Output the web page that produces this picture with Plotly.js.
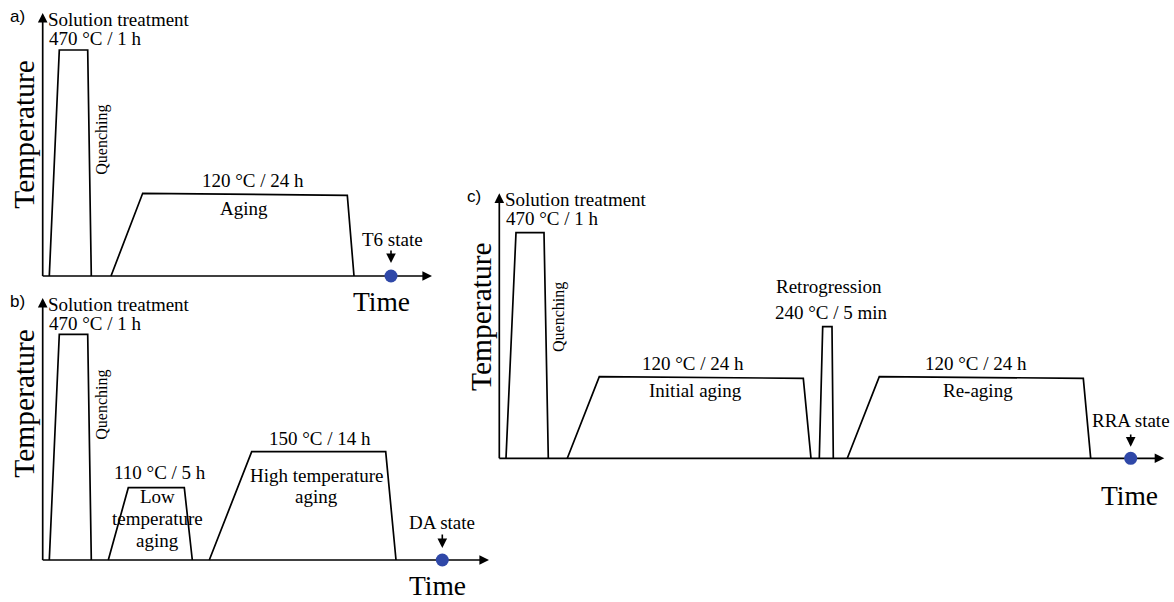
<!DOCTYPE html>
<html>
<head>
<meta charset="utf-8">
<script src="https://cdn.plot.ly/plotly-3.0.1.min.js"></script>
<style>
  html, body { margin: 0; padding: 0; background: #fff; }
  #chart { width: 1174px; height: 602px; }
</style>
</head>
<body>
<div id="chart"></div>
<script>
// Schematic heat-treatment routes. Time runs along x and the temperature level
// along y; both are schematic units (not to scale), origin at each axis corner.

// a) T6 route
const t6SolutionTime  = [6.6, 16.6, 45, 48.6];
const t6SolutionLevel = [0, 226, 226, 0];
const t6AgingTime     = [68.3, 100, 304.6, 311.3];
const t6AgingLevel    = [0, 82.7, 80.7, 0];
const t6EndTime       = [348.3];

// b) Double-aging (DA) route
const daSolutionTime  = [6.6, 16.6, 45, 48.6];
const daSolutionLevel = [0, 225.7, 225.7, 0];
const daLowTime       = [65.6, 85.6, 141.6, 149.6];
const daLowLevel      = [0, 72.3, 72.3, 0];
const daHighTime      = [166.6, 209, 343, 353.3];
const daHighLevel     = [0, 108.3, 108.3, 0];
const daEndTime       = [399.6];

// c) Retrogression and re-aging (RRA) route
const rraSolutionTime  = [6.7, 16.7, 44.7, 49];
const rraSolutionLevel = [0, 225.6, 225.6, 0];
const rraInitialTime   = [68, 100, 304, 311.7];
const rraInitialLevel  = [0, 81.6, 80, 0];
const rraRetroTime     = [320, 323.4, 332.7, 334];
const rraRetroLevel    = [0, 131.6, 131.6, 0];
const rraReagingTime   = [348, 380, 584, 591.4];
const rraReagingLevel  = [0, 81.6, 80, 0];
const rraEndTime       = [631.4];

// Process conditions written on the diagrams
const solutionLabel = ['Solution treatment', '470 °C / 1 h'];
const t6Labels  = ['120 °C / 24 h', 'Aging', 'T6 state'];
const daLabels  = ['110 °C / 5 h', 'Low', 'temperature', 'aging', '150 °C / 14 h', 'High temperature', 'aging', 'DA state'];
const rraLabels = ['Retrogression', '240 °C / 5 min', '120 °C / 24 h', 'Initial aging', '120 °C / 24 h', 'Re-aging', 'RRA state'];
const panelTags = ['a)', 'b)', 'c)'];
const axisNames = ['Time', 'Temperature'];

const SERIF = '"Liberation Serif", "Times New Roman", serif';
const SANS = '"Liberation Sans", Arial, sans-serif';
const INK = '#000';
const DOT = '#2f48a8';
const W = 1174, H = 602;

// Each panel: pixel box on the page and where its origin sits; 1 unit = 1 px.
const panels = [
  { x: 'x',  y: 'y',  box: [0, 0, 460, 310],     origin: [42.7, 276],   tLen: 389.3, yLen: 263 },
  { x: 'x2', y: 'y2', box: [0, 285, 500, 602],   origin: [42.7, 560],   tLen: 446.3, yLen: 262 },
  { x: 'x3', y: 'y3', box: [460, 180, 1174, 510], origin: [499.3, 458.3], tLen: 665,  yLen: 265 }
];

const layout = {
  width: W, height: H,
  margin: { l: 0, r: 0, t: 0, b: 0 },
  paper_bgcolor: '#fff', plot_bgcolor: 'rgba(0,0,0,0)',
  showlegend: false,
  annotations: []
};

panels.forEach((p, i) => {
  const [x0, y0, x1, y1] = p.box;
  const [ox, oy] = p.origin;
  const sfx = i === 0 ? '' : String(i + 1);
  layout['xaxis' + sfx] = {
    domain: [x0 / W, x1 / W], range: [x0 - ox, x1 - ox],
    visible: false, fixedrange: true, anchor: p.y
  };
  layout['yaxis' + sfx] = {
    domain: [1 - y1 / H, 1 - y0 / H], range: [oy - y1, oy - y0],
    visible: false, fixedrange: true, anchor: p.x
  };
});

const traces = [];
function profile(p, t, lv) {
  traces.push({
    type: 'scatter', mode: 'lines', xaxis: p.x, yaxis: p.y,
    x: t, y: lv, line: { color: INK, width: 1.7 }, cliponaxis: false, hoverinfo: 'skip'
  });
}
function axes(p) {
  traces.push({
    type: 'scatter', mode: 'lines', xaxis: p.x, yaxis: p.y,
    x: [0, p.tLen - 4], y: [0, 0], line: { color: INK, width: 1.7 }, cliponaxis: false, hoverinfo: 'skip'
  });
  traces.push({
    type: 'scatter', mode: 'lines', xaxis: p.x, yaxis: p.y,
    x: [0, 0], y: [0, p.yLen - 4], line: { color: INK, width: 1.7 }, cliponaxis: false, hoverinfo: 'skip'
  });
  arrow(p, p.tLen - 6, 0, p.tLen, 0);
  arrow(p, 0, p.yLen - 6, 0, p.yLen);
}
function endDot(p, t) {
  traces.push({
    type: 'scatter', mode: 'markers', xaxis: p.x, yaxis: p.y,
    x: t, y: t.map(() => 0), marker: { color: DOT, size: 13 }, cliponaxis: false, hoverinfo: 'skip'
  });
}
function text(p, x, y, s, extra) {
  layout.annotations.push(Object.assign({
    xref: p.x, yref: p.y, x: x, y: y, text: s, showarrow: false,
    xanchor: 'center', yanchor: 'middle', borderpad: 0,
    font: { family: SERIF, size: 19, color: INK }
  }, extra || {}));
}
function arrow(p, xa, ya, xb, yb) {
  layout.annotations.push({
    xref: p.x, yref: p.y, axref: p.x, ayref: p.y,
    x: xb, y: yb, ax: xa, ay: ya, text: '', showarrow: true,
    arrowhead: 2, arrowsize: 1.2, arrowwidth: 1.6, arrowcolor: INK, standoff: 0
  });
}
function common(p, i, tempY, quenchY, timeX, timeY) {
  text(p, 4.5, p.yLen - 6, solutionLabel[0], { xanchor: 'left' });
  text(p, 5.2, p.yLen - 25, solutionLabel[1], { xanchor: 'left' });
  text(p, 59, quenchY, 'Quenching', { textangle: -90, font: { family: SERIF, size: 16, color: INK } });
  text(p, timeX, timeY, axisNames[0], { font: { family: SERIF, size: 27.5, color: INK } });
  text(p, -19, tempY, axisNames[1], { textangle: -90, font: { family: SERIF, size: 29.5, color: INK } });
  text(p, -25, p.yLen - 3, panelTags[i], { font: { family: SANS, size: 17, color: INK } });
}

// a) T6
const pa = panels[0];
axes(pa);
profile(pa, t6SolutionTime, t6SolutionLevel);
profile(pa, t6AgingTime, t6AgingLevel);
endDot(pa, t6EndTime);
common(pa, 0, 142, 136, 339, -25.7);
text(pa, 210.3, 96, t6Labels[0]);
text(pa, 201.3, 68, t6Labels[1]);
text(pa, 350, 37, t6Labels[2]);
arrow(pa, t6EndTime[0], 27, t6EndTime[0], 13);

// b) DA
const pb = panels[1];
axes(pb);
profile(pb, daSolutionTime, daSolutionLevel);
profile(pb, daLowTime, daLowLevel);
profile(pb, daHighTime, daHighLevel);
endDot(pb, daEndTime);
common(pb, 1, 157, 155, 395, -25.5);
text(pb, 117.3, 87.3, daLabels[0]);
text(pb, 115, 63.3, daLabels[1]);
text(pb, 115, 42, daLabels[2]);
text(pb, 115, 20, daLabels[3]);
text(pb, 277.3, 121.7, daLabels[4]);
text(pb, 274, 85, daLabels[5]);
text(pb, 274, 63.3, daLabels[6]);
text(pb, 399.3, 38, daLabels[7]);
arrow(pb, daEndTime[0], 27, daEndTime[0], 12);

// c) RRA
const pc = panels[2];
axes(pc);
profile(pc, rraSolutionTime, rraSolutionLevel);
profile(pc, rraInitialTime, rraInitialLevel);
profile(pc, rraRetroTime, rraRetroLevel);
profile(pc, rraReagingTime, rraReagingLevel);
endDot(pc, rraEndTime);
common(pc, 2, 141.6, 141.6, 630.2, -36.7);
text(pc, 329.3, 171.6, rraLabels[0]);
text(pc, 331.8, 146, rraLabels[1]);
text(pc, 194, 95, rraLabels[2]);
text(pc, 196.4, 68.3, rraLabels[3]);
text(pc, 476.7, 95, rraLabels[4]);
text(pc, 478.4, 67.6, rraLabels[5]);
text(pc, 631.7, 38.3, rraLabels[6]);
arrow(pc, rraEndTime[0], 25.3, rraEndTime[0], 11.6);

Plotly.newPlot('chart', traces, layout, { staticPlot: true, displayModeBar: false });
</script>
</body>
</html>
